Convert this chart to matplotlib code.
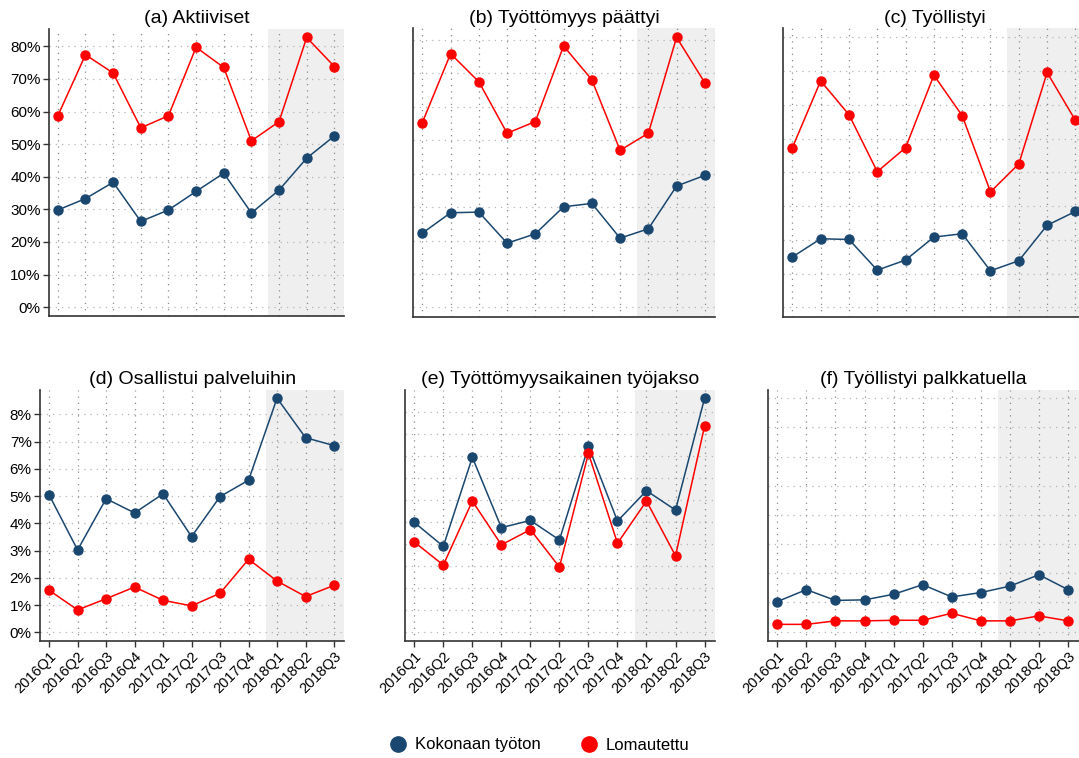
import matplotlib
matplotlib.use("Agg")
import matplotlib.pyplot as plt
from matplotlib.lines import Line2D

plt.rcParams['font.family'] = ['Liberation Sans', 'DejaVu Sans']

# ----------------------------------------------------
# Data (osuudet, %)
# ----------------------------------------------------
quarters = ['2016Q1', '2016Q2', '2016Q3', '2016Q4', '2017Q1', '2017Q2',
            '2017Q3', '2017Q4', '2018Q1', '2018Q2', '2018Q3']

titles = ['(a) Aktiiviset', '(b) Työttömyys päättyi', '(c) Työllistyi',
          '(d) Osallistui palveluihin', '(e) Työttömyysaikainen työjakso',
          '(f) Työllistyi palkkatuella']

aktiiviset_tyoton = [29.8, 33.3, 38.3, 26.3, 29.8, 35.5, 41.1, 28.9, 35.9, 45.7, 52.5]
aktiiviset_lomautettu = [58.7, 77.4, 71.8, 55.0, 58.7, 79.7, 73.5, 51.0, 56.9, 82.7, 73.8]

paattyi_tyoton = [22.2, 28.3, 28.5, 19.2, 22.0, 30.1, 31.1, 20.7, 23.5, 36.3, 39.5]
paattyi_lomautettu = [55.3, 75.9, 67.5, 52.1, 55.6, 78.2, 68.1, 47.0, 52.1, 80.8, 67.2]

tyollistyi_tyoton = [14.9, 20.3, 20.1, 11.0, 14.0, 20.8, 21.8, 10.8, 13.8, 24.3, 28.4]
tyollistyi_lomautettu = [47.3, 67.1, 57.1, 40.2, 47.3, 68.8, 56.8, 34.2, 42.5, 69.6, 55.4]

palvelut_tyoton = [5.04, 3.02, 4.90, 4.38, 5.08, 3.51, 4.98, 5.58, 8.59, 7.14, 6.85]
palvelut_lomautettu = [1.54, 0.82, 1.23, 1.66, 1.17, 0.97, 1.43, 2.68, 1.88, 1.31, 1.72]

tyojakso_tyoton = [4.97, 3.88, 7.93, 4.73, 5.06, 4.17, 8.43, 5.03, 6.41, 5.53, 10.61]
tyojakso_lomautettu = [4.08, 3.03, 5.94, 3.95, 4.64, 2.94, 8.11, 4.02, 5.94, 3.45, 9.34]

palkkatuki_tyoton = [1.03, 1.44, 1.07, 1.09, 1.28, 1.61, 1.19, 1.34, 1.56, 1.95, 1.44]
palkkatuki_lomautettu = [0.25, 0.25, 0.37, 0.37, 0.39, 0.39, 0.63, 0.37, 0.37, 0.54, 0.37]

series = [
    (aktiiviset_tyoton, aktiiviset_lomautettu),
    (paattyi_tyoton, paattyi_lomautettu),
    (tyollistyi_tyoton, tyollistyi_lomautettu),
    (palvelut_tyoton, palvelut_lomautettu),
    (tyojakso_tyoton, tyojakso_lomautettu),
    (palkkatuki_tyoton, palkkatuki_lomautettu),
]

BLUE = '#1a476f'
RED = '#ff0000'
SHADE = '#efefef'

W, H = 1079, 758
# paneelien sijainnit pikseleinä: vasen, oikea, ylä, ala
boxes = [
    (49, 344.3, 29, 316),
    (413.3, 715, 28.3, 316.7),
    (783.3, 1085.6, 28.3, 316.7),
    (40, 344.3, 390, 640.7),
    (405, 715, 390, 640.7),
    (768, 1078.5, 390, 641),
]
ylims = [(-2.7, 85.3), (-2.8, 83.5), (-2.8, 82.7),
         (-0.31, 8.89), (-0.41, 10.99), (-0.32, 8.28)]
ygrid = [range(0, 81, 10), range(0, 81, 10), range(0, 81, 10),
         range(0, 9), range(0, 11), range(0, 9)]

fig = plt.figure(figsize=(W / 100, H / 100), dpi=100)

x = list(range(len(quarters)))
for i, (box, (tyoton, lomautettu)) in enumerate(zip(boxes, series)):
    l, r, t, b = box
    ax = fig.add_axes([l / W, 1 - b / H, (r - l) / W, (b - t) / H])
    ax.set_xlim(-0.32, 10.36)
    ax.set_ylim(*ylims[i])
    ax.axvspan(7.6, 11, color=SHADE, zorder=0, lw=0)

    for g in ygrid[i]:
        ax.axhline(g, color='#b5b5b5', lw=0.9, ls=(0, (1, 4)), zorder=0.5)
    for xx in x:
        ax.axvline(xx, color='#8a8a8a', lw=0.9, ls=(0, (1, 4)), zorder=0.5)

    ax.plot(x, tyoton, color=BLUE, lw=1.1, marker='o', ms=6.5, zorder=3)
    ax.plot(x, lomautettu, color=RED, lw=1.1, marker='o', ms=6.5, zorder=3)

    for s in ['top', 'right']:
        ax.spines[s].set_visible(False)
    for s in ['left', 'bottom']:
        ax.spines[s].set_color('#333333')
        ax.spines[s].set_linewidth(1.2)

    ax.set_title(titles[i], fontsize=14, pad=4)

    if i in (0, 3):
        ticks = list(ygrid[i])
        ax.set_yticks(ticks)
        ax.set_yticklabels([f'{v}%' for v in ticks], fontsize=11)
        ax.tick_params(axis='y', length=4, width=1, color='#333333', pad=2)
    else:
        ax.set_yticks([])

    if i >= 3:
        ax.set_xticks(x)
        ax.set_xticklabels(quarters, fontsize=10.5, rotation=45,
                           ha='right', rotation_mode='anchor')
        ax.tick_params(axis='x', length=4, width=1, color='#333333', pad=2)
    else:
        ax.set_xticks([])

handles = [
    Line2D([], [], ls='none', marker='o', ms=11, color=BLUE, label='Kokonaan työton'),
    Line2D([], [], ls='none', marker='o', ms=11, color=RED, label='Lomautettu'),
]
fig.legend(handles=handles, loc='center', bbox_to_anchor=(0.5, 1 - 745 / H),
           ncol=2, frameon=False, fontsize=12, handlelength=1.0,
           handletextpad=0.5, columnspacing=2.4)

fig.savefig('out.png', dpi=100)
